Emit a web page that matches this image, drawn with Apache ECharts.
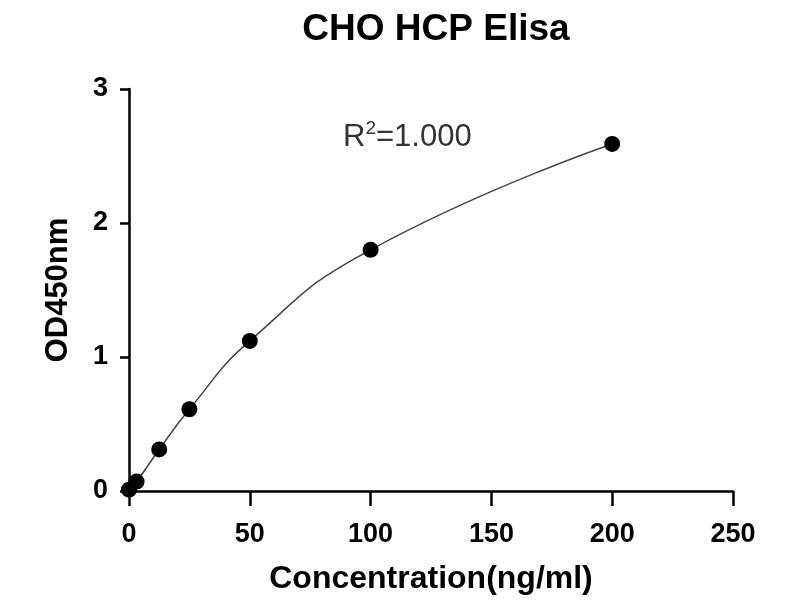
<!DOCTYPE html>
<html>
<head>
<meta charset="utf-8">
<script src="https://cdn.jsdelivr.net/npm/echarts@6/dist/echarts.min.js"></script>
<style>
  html, body { margin: 0; padding: 0; background: #fff; }
  #chart { width: 800px; height: 600px; }
</style>
</head>
<body>
<div id="chart"></div>
<script>
// standards: concentration (ng/ml) vs OD450
var concentration = [0, 3.13, 12.5, 25, 50, 100, 200];
var od450 = [0.01, 0.07, 0.31, 0.61, 1.12, 1.80, 2.59];
var xTicks = [0, 50, 100, 150, 200, 250];
var yTicks = [0, 1, 2, 3];

var points = concentration.map(function (c, i) { return [c, od450[i]]; });

var chart = echarts.init(document.getElementById('chart'));
var font = 'Liberation Sans, Arial, sans-serif';

var option = {
    animation: false,
    title: {
        text: 'CHO HCP Elisa',
        left: 431,
        textAlign: 'center',
        top: 6,
        textStyle: { fontFamily: font, fontSize: 37, fontWeight: 'bold', color: '#000' }
    },
    grid: { left: 129, right: 67, top: 89, bottom: 109 },
    xAxis: {
        type: 'value',
        min: xTicks[0],
        max: xTicks[xTicks.length - 1],
        interval: 50,
        splitLine: { show: false },
        axisLine: { lineStyle: { color: '#000', width: 2.5 } },
        axisTick: { length: 15, lineStyle: { color: '#000', width: 2.5 } },
        axisLabel: { margin: 30, fontFamily: font, fontSize: 27, fontWeight: 'bold', color: '#000' },
        name: 'Concentration(ng/ml)',
        nameLocation: 'middle',
        nameGap: 72,
        nameTextStyle: { fontFamily: font, fontSize: 32, fontWeight: 'bold', color: '#000' }
    },
    yAxis: {
        type: 'value',
        min: yTicks[0],
        max: yTicks[yTicks.length - 1],
        interval: 1,
        splitLine: { show: false },
        axisLine: { show: true, lineStyle: { color: '#000', width: 2.5 } },
        axisTick: { show: true, length: 9, lineStyle: { color: '#000', width: 2.5 } },
        axisLabel: { margin: 21, fontFamily: font, fontSize: 27, fontWeight: 'bold', color: '#000' },
        name: 'OD450nm',
        nameLocation: 'middle',
        nameGap: 55,
        nameTextStyle: { fontFamily: font, fontSize: 31, fontWeight: 'bold', color: '#000' }
    },
    graphic: [{
        type: 'text',
        left: 343,
        top: 119,
        style: {
            text: '{r|R}{s|2}{r|=1.000}',
            rich: {
                r: { fontFamily: font, fontSize: 31, fill: '#333', verticalAlign: 'bottom' },
                s: { fontFamily: font, fontSize: 19, fill: '#333', verticalAlign: 'top', padding: [0, 0, 15, 0] }
            }
        }
    }],
    series: [
        {
            type: 'line',
            data: points,
            smooth: 0.5,
            showSymbol: false,
            lineStyle: { color: '#444', width: 1.5 },
            z: 2
        },
        {
            type: 'scatter',
            data: points,
            symbolSize: 16,
            itemStyle: { color: '#000', opacity: 1 },
            z: 3
        }
    ]
};

chart.setOption(option);
</script>
</body>
</html>
